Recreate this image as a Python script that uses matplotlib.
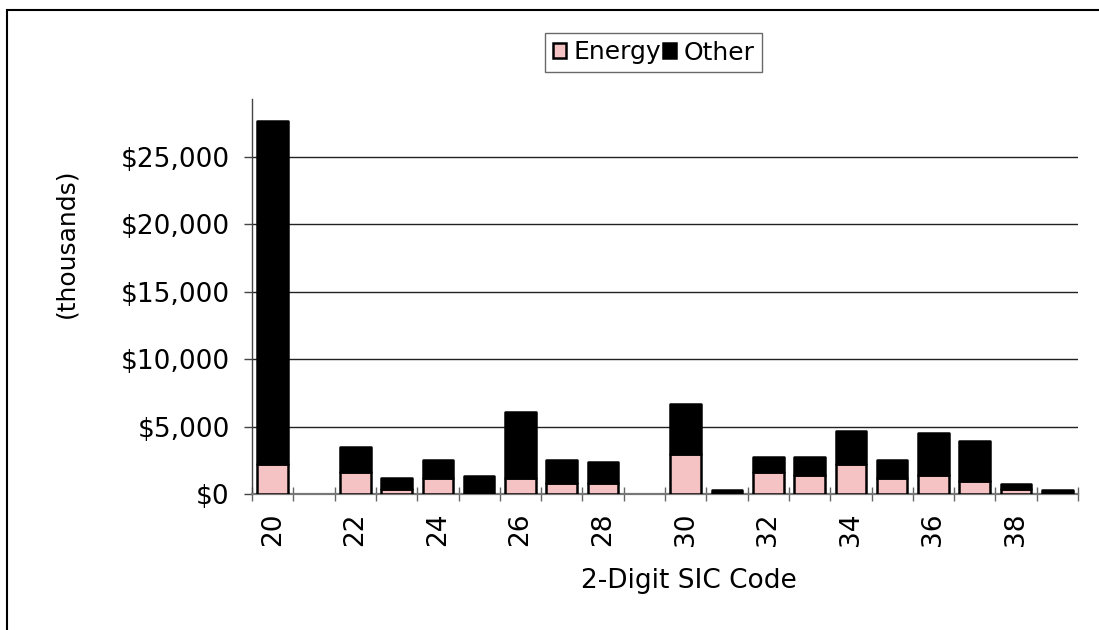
import matplotlib
matplotlib.use('Agg')
import matplotlib.pyplot as plt
import numpy as np
from matplotlib.patches import Rectangle

# 2-digit SIC codes and their values (thousands of dollars)
codes = [20, 22, 23, 24, 25, 26, 27, 28, 30, 31, 32, 33, 34, 35, 36, 37, 38, 39]
energy = [2200, 1600, 400, 1200, 0, 1200, 800, 800, 3000, 0,
          1600, 1400, 2200, 1200, 1400, 1000, 400, 0]
other = [25500, 1900, 750, 1350, 1350, 4900, 1750, 1550, 3700, 300,
         1150, 1350, 2500, 1350, 3150, 2950, 350, 300]
label_codes = [20, 22, 24, 26, 28, 30, 32, 34, 36, 38]
y_ticks = [0, 5000, 10000, 15000, 20000, 25000]

pink = '#F5C3C3'
W, H = 1099, 630

fig = plt.figure(figsize=(W / 100, H / 100), dpi=100)
fig.patch.set_facecolor('white')

# outer frame (top and left edges visible)
fig.add_artist(Rectangle((7 / W, -0.05), 1.2, 1 - 10 / H + 0.05,
                         transform=fig.transFigure, fill=False,
                         edgecolor='black', linewidth=1.5))

ax = fig.add_axes([252 / W, 1 - 494 / H, (1078 - 252) / W, (494 - 99) / H])

ax.bar(codes, energy, width=0.74, color=pink, edgecolor='black',
       linewidth=1.8, joinstyle='round', label='Energy', zorder=3)
ax.bar(codes, other, width=0.74, bottom=energy, color='black',
       edgecolor='black', linewidth=1.8, joinstyle='round', label='Other',
       zorder=3)

ax.set_xlim(19.5, 39.5)
ax.set_ylim(0, 29300)

# grid
ax.set_yticks(y_ticks)
ax.set_yticklabels(['${:,}'.format(v) for v in y_ticks])
ax.yaxis.grid(True, color='#222222', linewidth=1.0)
ax.set_axisbelow(True)

# x ticks: labels at even codes, tick marks at category boundaries
ax.set_xticks(label_codes)
ax.set_xticklabels([str(c) for c in label_codes], rotation=90)
ax.set_xticks(np.arange(19.5, 40.0, 1.0), minor=True)
ax.tick_params(axis='x', which='major', length=0, pad=13, labelsize=19)
ax.tick_params(axis='x', which='minor', length=10, width=1.0,
               direction='inout', color='#666666')
ax.tick_params(axis='y', which='major', length=6, width=1.0,
               direction='out', color='#444444', pad=10, labelsize=19)

for s in ['top', 'right']:
    ax.spines[s].set_visible(False)
ax.spines['left'].set_color('#444444')
ax.spines['left'].set_linewidth(1.0)
ax.spines['bottom'].set_color('#777777')
ax.spines['bottom'].set_linewidth(1.6)

fig.text(689 / W, 1 - 581 / H, '2-Digit SIC Code', ha='center',
         va='center', fontsize=19)
fig.text(66 / W, 1 - 243 / H, '(thousands)', ha='center', va='center',
         rotation=90, fontsize=18)

leg = fig.legend(loc='upper left', bbox_to_anchor=(545 / W, 1 - 33 / H),
                 ncol=2, fontsize=18, frameon=True, fancybox=False,
                 handlelength=0.55, handleheight=0.55, handletextpad=0.3,
                 columnspacing=0.05, borderpad=0.3, borderaxespad=0)
leg.get_frame().set_edgecolor('#444444')
leg.get_frame().set_linewidth(1.0)

fig.savefig('out.png', dpi=100)
